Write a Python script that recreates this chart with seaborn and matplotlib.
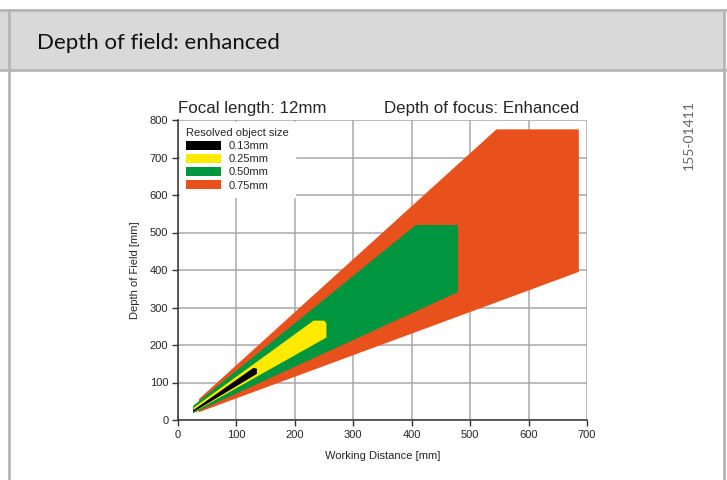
import matplotlib
matplotlib.use("Agg")
import matplotlib.pyplot as plt
from matplotlib.patches import Patch, Rectangle
from matplotlib.lines import Line2D
import pandas as pd
import seaborn as sns

# resolved object size -> polygon outline (working distance, depth of field)
sizes = ["0.13mm", "0.25mm", "0.50mm", "0.75mm"]
colors = ["#000000", "#ffea00", "#009640", "#e8501c"]

wd_075 = [36, 545, 686, 686, 36]
dof_075 = [56, 775, 775, 395, 21]
wd_050 = [26, 407, 479, 479, 26]
dof_050 = [38, 520, 520, 341, 18]
wd_025 = [27, 232, 250, 254, 254, 27]
dof_025 = [33, 265, 265, 258, 220, 21]
wd_013 = [26, 129, 135, 135, 26]
dof_013 = [26, 139, 137, 123, 21]

x_ticks = [0, 100, 200, 300, 400, 500, 600, 700]
y_ticks = [0, 100, 200, 300, 400, 500, 600, 700, 800]

shapes = pd.DataFrame({
    "size": ["0.75mm"] * len(wd_075) + ["0.50mm"] * len(wd_050)
            + ["0.25mm"] * len(wd_025) + ["0.13mm"] * len(wd_013),
    "wd": wd_075 + wd_050 + wd_025 + wd_013,
    "dof": dof_075 + dof_050 + dof_025 + dof_013,
})

sns.set_theme(style="whitegrid")
plt.rcParams["font.family"] = ["Liberation Sans", "DejaVu Sans"]

W, H = 727, 480
fig = plt.figure(figsize=(W / 100, H / 100), dpi=100)

# page frame / header band (pixel positions measured from the top)
fig.patches.append(Rectangle((0, 1 - 70 / H), 724 / W, 60 / H, transform=fig.transFigure,
                             facecolor="#d9d9d9", edgecolor="none", zorder=0))
for py in (10, 70):
    fig.add_artist(Line2D([0, 1], [1 - py / H] * 2, transform=fig.transFigure, color="#b5b5b5", lw=2))
for px in (9, 724):
    fig.add_artist(Line2D([px / W] * 2, [0, 1 - 10 / H], transform=fig.transFigure, color="#b5b5b5", lw=2))
fig.text(37 / W, 1 - 43 / H, "Depth of field: enhanced", fontsize=16, family=["Lato", "DejaVu Sans"],
         color="#111111", va="center", ha="left")
fig.text(689 / W, 1 - 135 / H, "155-01411", fontsize=10, rotation=90, color="#666666",
         family=["Lato", "DejaVu Sans"], va="center", ha="center")

ax = fig.add_axes([178 / W, 60 / H, 409 / W, 300 / H])
for s, c in zip(["0.75mm", "0.50mm", "0.25mm", "0.13mm"], [colors[3], colors[2], colors[1], colors[0]]):
    part = shapes[shapes["size"] == s]
    ax.fill(part["wd"], part["dof"], color=c, lw=0, zorder=2)

ax.set_xlim(0, 700)
ax.set_ylim(0, 800)
ax.set_xticks(x_ticks)
ax.set_yticks(y_ticks)
ax.tick_params(labelsize=8, length=4, width=1, color="#333333", pad=3,
               bottom=True, left=True)
ax.grid(True, color="#a8a8a8", lw=1.1)
ax.set_facecolor("white")
for side in ("top", "right"):
    ax.spines[side].set_visible(False)
for side in ("left", "bottom"):
    ax.spines[side].set_color("#333333")
    ax.spines[side].set_linewidth(1.1)
    ax.spines[side].set_zorder(3)

ax.set_xlabel("Working Distance [mm]", fontsize=8, labelpad=8)
ax.set_ylabel("Depth of Field [mm]", fontsize=8, labelpad=7)
ax.text(0, 1.012, "Focal length: 12mm", transform=ax.transAxes, fontsize=12.2,
        ha="left", va="bottom")
ax.text((579 - 178) / 409, 1.012, "Depth of focus: Enhanced", transform=ax.transAxes,
        fontsize=12.2, ha="right", va="bottom")

handles = [Patch(facecolor=c, edgecolor="none", label=s) for s, c in zip(sizes, colors)]
leg = ax.legend(handles=handles, title="Resolved object size", loc="upper left",
                fontsize=8, title_fontsize=8, frameon=True, fancybox=False,
                framealpha=1, edgecolor="white", borderaxespad=0.15,
                handlelength=3.2, handleheight=0.9, labelspacing=0.25,
                handletextpad=0.7, borderpad=0.55, alignment="left")
leg.set_zorder(5)

fig.savefig("out.png", dpi=100)
